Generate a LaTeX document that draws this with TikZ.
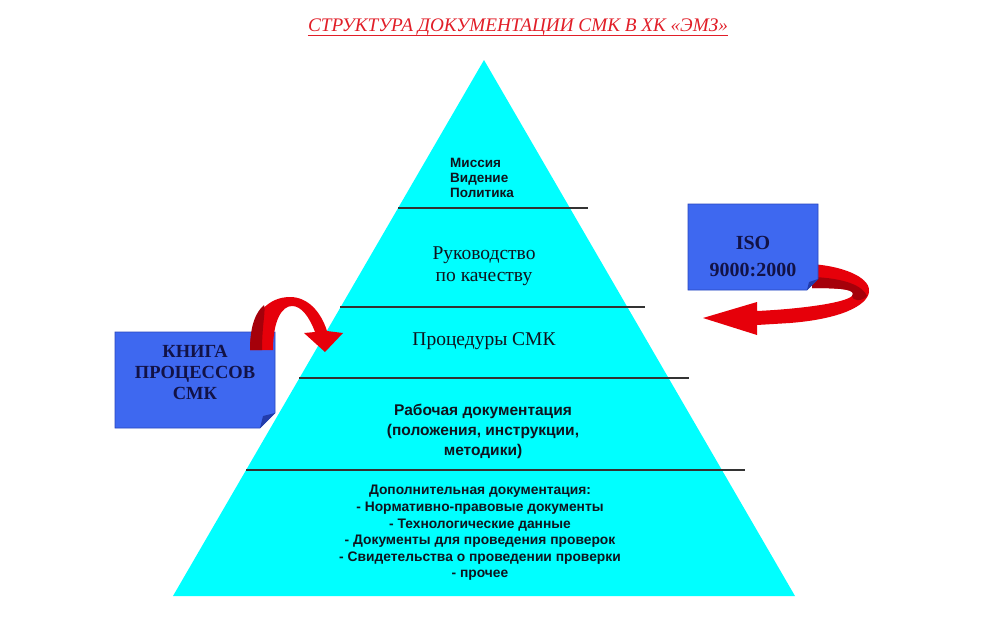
\documentclass[tikz,border=0pt]{standalone}
\usepackage{fontspec}
\setmainfont{Liberation Serif}
\newfontfamily\sansf{Liberation Sans}
\definecolor{pyrcyan}{RGB}{0,255,255}
\definecolor{boxblue}{RGB}{62,104,240}
\definecolor{boxedge}{RGB}{40,70,190}
\definecolor{foldblue}{RGB}{35,60,170}
\definecolor{navytext}{RGB}{18,18,70}
\definecolor{arrred}{RGB}{230,0,10}
\definecolor{arrdark}{RGB}{165,0,10}
\definecolor{titlered}{RGB}{225,30,40}
\definecolor{pyrtext}{RGB}{15,20,30}
\begin{document}
\begin{tikzpicture}[x=1pt,y=-1pt,
  level/.style={draw=black!80, line width=1.4pt},
  bluebox/.style={fill=boxblue, draw=boxedge, line width=0.6pt},
  boxtext/.style={font=\bfseries\fontsize{18.5}{21}\selectfont, text=navytext, align=center, inner sep=0pt},
  isotext/.style={font=\bfseries\fontsize{20}{27}\selectfont, text=navytext, align=center, inner sep=0pt},
  serifpyr/.style={font=\fontsize{19.5}{22}\selectfont, text=pyrtext, align=center, inner sep=0pt},
  sanspyr/.style={font=\sansf\bfseries\fontsize{15.5}{20}\selectfont, text=pyrtext, align=center, inner sep=0pt},
  sanssmall/.style={font=\sansf\bfseries\fontsize{13.8}{16.6}\selectfont, text=pyrtext, align=center, inner sep=0pt},
  sanstop/.style={font=\sansf\bfseries\fontsize{13.5}{15}\selectfont, text=pyrtext, align=left, inner sep=0pt},
  titlestyle/.style={font=\itshape\fontsize{19.2}{21}\selectfont, text=titlered, inner sep=0pt}]
\useasboundingbox (0,0) rectangle (981,626);
\fill[white] (0,0) rectangle (981,626);

% title
\node[titlestyle, anchor=base] (title) at (518,32) {СТРУКТУРА ДОКУМЕНТАЦИИ СМК В ХК «ЭМЗ»};
\draw[titlered, line width=0.9pt] ([yshift=-3pt]title.base west) -- ([yshift=-3pt]title.base east);

% pyramid
\coordinate (apex) at (484,60);
\coordinate (bl) at (173,596);
\coordinate (br) at (795,596);
\fill[pyrcyan] (apex) -- (br) -- (bl) -- cycle;

\coordinate (l1a) at (398,208); \coordinate (l1b) at (588,208);
\coordinate (l2a) at (340,307); \coordinate (l2b) at (645,307);
\coordinate (l3a) at (299,378); \coordinate (l3b) at (689,378);
\coordinate (l4a) at (246,470); \coordinate (l4b) at (745,470);
\draw[level] (l1a) -- (l1b);
\draw[level] (l2a) -- (l2b);
\draw[level] (l3a) -- (l3b);
\draw[level] (l4a) -- (l4b);

% pyramid texts
\node[sanstop, anchor=west] (mvp) at (450,178) {Миссия\\Видение\\Политика};
\node[serifpyr] (ruk) at (484,266) {Руководство\\по качеству};
\node[serifpyr] (proc) at (484,341) {Процедуры СМК};
\node[sanspyr] (rab) at (483,431) {Рабочая документация\\(положения, инструкции,\\методики)};
\node[sanssmall] (dop) at (480,533) {Дополнительная документация:\\- Нормативно-правовые документы\\- Технологические данные\\- Документы для проведения проверок\\- Свидетельства о проведении проверки\\- прочее};

% ISO ribbon arrow (behind box)
\fill[arrred] (812,264) .. controls (850,267) and (871,280) .. (869,292)
  .. controls (867,306) and (840,319) .. (790,323) -- (757,325) -- (757,335)
  -- (703,318) -- (757,302) -- (757,311)
  .. controls (800,309) and (845,303) .. (852,296)
  .. controls (858,290) and (845,288) .. (812,288) -- cycle;
\fill[arrdark] (812,277) .. controls (845,278) and (863,286) .. (867,296)
  .. controls (862,302) and (852,301) .. (852,296)
  .. controls (856,290) and (845,288) .. (812,288) -- cycle;

% ISO box
\path[bluebox] (688,204) -- (818,204) -- (818,279) -- (807,290) -- (688,290) -- cycle;
\fill[foldblue] (807,290) -- (818,279) -- (809,282) -- cycle;
\node[isotext] (iso) at (753,257) {ISO\\9000:2000};

% KNIGA box
\path[bluebox] (115,332) -- (275,332) -- (275,413) -- (260,428) -- (115,428) -- cycle;
\fill[foldblue] (260,428) -- (275,413) -- (263,416) -- cycle;
\node[boxtext] (kniga) at (195,372) {КНИГА\\ПРОЦЕССОВ\\СМК};

% KNIGA curved arrow
\fill[arrred] (250,350) .. controls (250,312) and (270,297) .. (290,297)
  .. controls (308,297) and (321,312) .. (327,331) -- (343,333) -- (325,352)
  -- (304,333) -- (315,332) .. controls (309,316) and (301,306) .. (292,306)
  .. controls (282,306) and (273,320) .. (273,350) -- cycle;
\fill[arrdark] (250,350) .. controls (250,325) and (256,312) .. (264,305)
  .. controls (266,310) and (262,325) .. (262,350) -- cycle;
\end{tikzpicture}
\end{document}
